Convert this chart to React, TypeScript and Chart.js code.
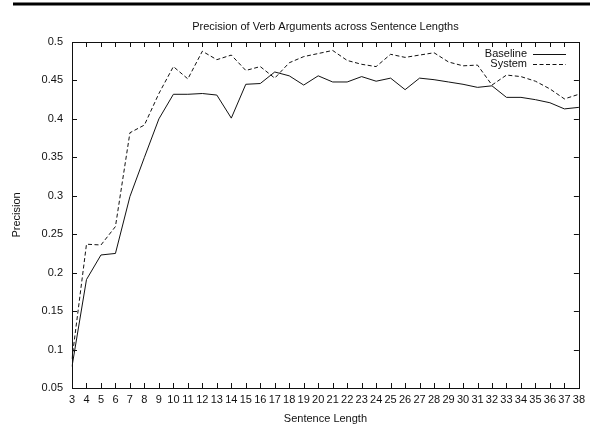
import React, { useEffect, useRef } from "react";
import { Chart, registerables } from "chart.js";

Chart.register(...registerables);

const sentenceLengths = [
  "3", "4", "5", "6", "7", "8", "9", "10", "11", "12", "13", "14", "15", "16", "17", "18", "19", "20",
  "21", "22", "23", "24", "25", "26", "27", "28", "29", "30", "31", "32", "33", "34", "35", "36", "37", "38",
];

const baselineValues = [
  0.078, 0.191, 0.223, 0.225, 0.299, 0.35, 0.4, 0.432, 0.432, 0.433, 0.431, 0.401, 0.445, 0.446, 0.461, 0.456,
  0.444, 0.456, 0.448, 0.448, 0.455, 0.449, 0.453, 0.438, 0.453, 0.451, 0.448, 0.445, 0.441, 0.443, 0.428, 0.428,
  0.425, 0.421, 0.413, 0.415,
];

const systemValues = [
  0.088, 0.237, 0.236, 0.26, 0.382, 0.392, 0.433, 0.468, 0.452, 0.488, 0.477, 0.483, 0.463, 0.468, 0.453, 0.473,
  0.481, 0.485, 0.489, 0.476, 0.471, 0.468, 0.484, 0.48, 0.483, 0.486, 0.474, 0.469, 0.47, 0.444, 0.457, 0.455,
  0.449, 0.439, 0.426, 0.432,
];

const yTickValues = [0.05, 0.1, 0.15, 0.2, 0.25, 0.3, 0.35, 0.4, 0.45, 0.5];

const titleText = "Precision of Verb Arguments across Sentence Lengths";
const xAxisTitle = "Sentence Length";
const yAxisTitle = "Precision";
const seriesNames = ["Baseline", "System"];

const FONT = "'Liberation Sans', Arial, Helvetica, sans-serif";
const INK = "#111";

const decorPlugin = {
  id: "gnuplotDecor",
  afterDatasetsDraw(chart: any) {
    const { ctx, chartArea } = chart;
    const { left, right, top, bottom } = chartArea;
    const xs = chart.scales.x;
    const ys = chart.scales.y;
    ctx.save();
    // top rule
    ctx.fillStyle = "#000";
    ctx.fillRect(13, 2.5, 577, 3);
    // frame
    ctx.strokeStyle = INK;
    ctx.lineWidth = 1;
    ctx.setLineDash([]);
    ctx.strokeRect(Math.round(left) + 0.5, Math.round(top) + 0.5, Math.round(right - left), Math.round(bottom - top));
    // inward ticks
    const tl = 5;
    ctx.beginPath();
    for (let i = 0; i < sentenceLengths.length; i++) {
      const px = Math.round(xs.getPixelForValue(i)) + 0.5;
      ctx.moveTo(px, bottom);
      ctx.lineTo(px, bottom - tl);
      ctx.moveTo(px, top);
      ctx.lineTo(px, top + tl);
    }
    for (const v of yTickValues) {
      const py = Math.round(ys.getPixelForValue(v)) + 0.5;
      ctx.moveTo(left, py);
      ctx.lineTo(left + tl, py);
      ctx.moveTo(right, py);
      ctx.lineTo(right - tl, py);
    }
    ctx.stroke();
    // texts
    ctx.fillStyle = INK;
    ctx.font = `11px ${FONT}`;
    ctx.textBaseline = "middle";
    ctx.textAlign = "center";
    const cx = (left + right) / 2;
    ctx.fillText(titleText, cx, 26.5);
    ctx.fillText(xAxisTitle, cx, 418.5);
    ctx.save();
    ctx.translate(17, (top + bottom) / 2);
    ctx.rotate(-Math.PI / 2);
    ctx.fillText(yAxisTitle, 0, 0);
    ctx.restore();
    // legend
    ctx.textAlign = "right";
    const legendY = [53.5, 64];
    const dashes = [[], [4, 2.5]];
    for (let i = 0; i < seriesNames.length; i++) {
      ctx.fillText(seriesNames[i], 527, legendY[i]);
      ctx.beginPath();
      ctx.setLineDash(dashes[i]);
      ctx.moveTo(533, Math.round(legendY[i]) + 0.5);
      ctx.lineTo(566, Math.round(legendY[i]) + 0.5);
      ctx.stroke();
    }
    ctx.restore();
  },
};

export default function App() {
  const canvasRef = useRef<HTMLCanvasElement | null>(null);

  useEffect(() => {
    const canvas = canvasRef.current;
    if (!canvas) return;
    const chart = new Chart(canvas, {
      type: "line",
      data: {
        labels: sentenceLengths,
        datasets: [
          {
            label: seriesNames[0],
            data: baselineValues,
            borderColor: INK,
            borderWidth: 1,
            pointRadius: 0,
            tension: 0,
            fill: false,
          },
          {
            label: seriesNames[1],
            data: systemValues,
            borderColor: INK,
            borderWidth: 1,
            borderDash: [4, 2.5],
            pointRadius: 0,
            tension: 0,
            fill: false,
          },
        ],
      },
      options: {
        animation: false,
        responsive: true,
        maintainAspectRatio: false,
        devicePixelRatio: 1,
        layout: { padding: { top: 42, right: 10, left: 0, bottom: 0 } },
        plugins: {
          legend: { display: false },
          title: { display: false },
          tooltip: { enabled: false },
        },
        scales: {
          x: {
            type: "category",
            offset: false,
            grid: { display: false, drawTicks: false },
            border: { display: false },
            ticks: {
              autoSkip: false,
              maxRotation: 0,
              minRotation: 0,
              padding: 5,
              color: INK,
              font: { family: FONT, size: 11 },
            },
            afterFit: (scale: any) => {
              scale.height = 37;
            },
          },
          y: {
            type: "linear",
            min: 0.05,
            max: 0.5,
            grid: { display: false, drawTicks: false },
            border: { display: false },
            afterBuildTicks: (scale: any) => {
              scale.ticks = yTickValues.map((v) => ({ value: v }));
            },
            ticks: {
              padding: 9,
              color: INK,
              font: { family: FONT, size: 11 },
              callback: (v: any) => String(parseFloat(Number(v).toFixed(2))),
            },
            afterFit: (scale: any) => {
              scale.width = 72;
            },
          },
        },
      },
      plugins: [decorPlugin],
    });
    return () => chart.destroy();
  }, []);

  return (
    <div style={{ position: "fixed", left: 0, top: 0, width: 590, height: 425, background: "#fff" }}>
      <canvas ref={canvasRef} />
    </div>
  );
}
